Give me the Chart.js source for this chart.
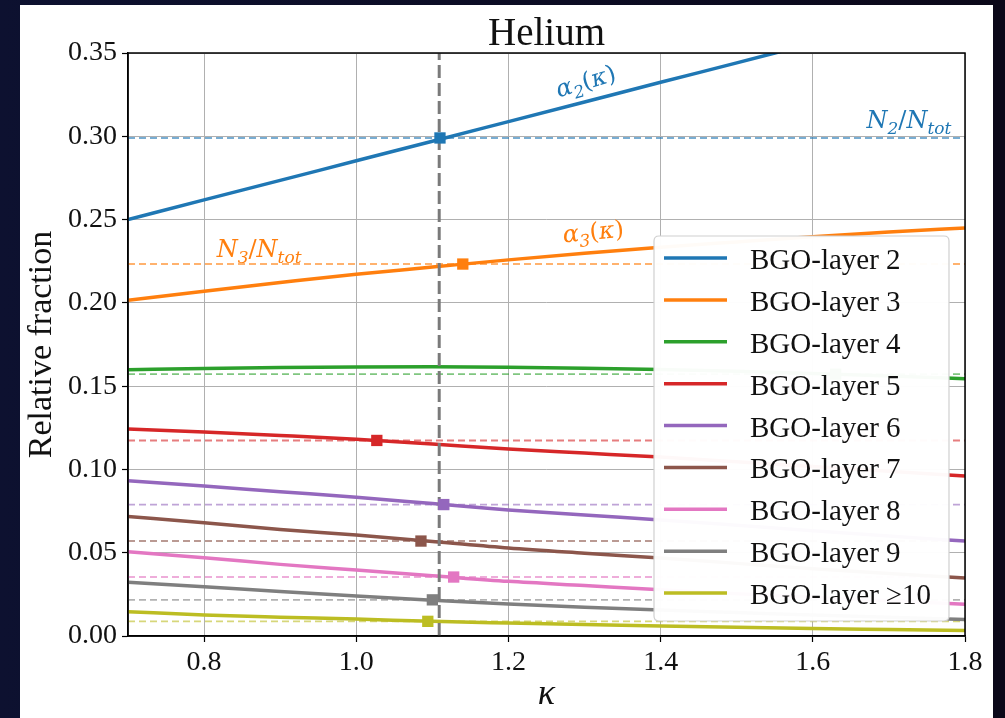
<!DOCTYPE html>
<html><head><meta charset="utf-8">
<script src="https://cdn.jsdelivr.net/npm/chart.js@4.4.0/dist/chart.umd.min.js"></script>
<style>
html,body{margin:0;padding:0;background:#0c0e26;overflow:hidden}
canvas{display:block}
</style></head>
<body>
<canvas id="c" width="1005" height="718" style="width:1005px;height:718px"></canvas>
<script>
// ---------------- data ----------------
const kappa   = [0.7, 0.8, 0.9, 1.0, 1.1, 1.2, 1.3, 1.4, 1.5, 1.6, 1.7, 1.8];
const layer2  = [0.2500, 0.2618, 0.2735, 0.2853, 0.2970, 0.3088, 0.3206, 0.3324, 0.3441, 0.3559, 0.3676, 0.3794];
const layer3  = [0.2015, 0.2070, 0.2122, 0.2172, 0.2215, 0.2258, 0.2298, 0.2334, 0.2366, 0.2397, 0.2425, 0.2450];
const layer4  = [0.1598, 0.1606, 0.1612, 0.1615, 0.1616, 0.1614, 0.1608, 0.1600, 0.1589, 0.1576, 0.1561, 0.1545];
const layer5  = [0.1243, 0.1225, 0.1204, 0.1181, 0.1152, 0.1122, 0.1098, 0.1074, 0.1046, 0.1017, 0.0989, 0.0960];
const layer6  = [0.0932, 0.0900, 0.0866, 0.0833, 0.0795, 0.0757, 0.0726, 0.0697, 0.0665, 0.0632, 0.0600, 0.0570];
const layer7  = [0.0717, 0.0680, 0.0640, 0.0606, 0.0568, 0.0528, 0.0497, 0.0468, 0.0436, 0.0404, 0.0375, 0.0348];
const layer8  = [0.0506, 0.0470, 0.0430, 0.0396, 0.0362, 0.0328, 0.0303, 0.0278, 0.0254, 0.0232, 0.0211, 0.0190];
const layer9  = [0.0322, 0.0296, 0.0267, 0.0240, 0.0215, 0.0192, 0.0173, 0.0156, 0.0141, 0.0126, 0.0112, 0.0099];
const layer10 = [0.0146, 0.0126, 0.0113, 0.0102, 0.0088, 0.0078, 0.0069, 0.0060, 0.0052, 0.0045, 0.0039, 0.0033];
const seriesValues = [layer2, layer3, layer4, layer5, layer6, layer7, layer8, layer9, layer10];
const seriesLabels = ['BGO-layer 2','BGO-layer 3','BGO-layer 4','BGO-layer 5','BGO-layer 6','BGO-layer 7','BGO-layer 8','BGO-layer 9','BGO-layer \u226510'];
// measured fractions N_i/N_tot and crossing points alpha_i(kappa) = N_i/N_tot
const crossKappa = [1.110, 1.140, 1.630, 1.027, 1.115, 1.085, 1.128, 1.100, 1.094];
const crossFrac  = [0.2990, 0.2233, 0.1572, 0.1174, 0.0789, 0.0570, 0.0354, 0.0217, 0.0088];
const kappaRef = 1.109;
const xTicks = [0.8, 1.0, 1.2, 1.4, 1.6, 1.8];
const yTicks = [0.00, 0.05, 0.10, 0.15, 0.20, 0.25, 0.30, 0.35];

// ---------------- styles ----------------
const colors = ['#1f77b4','#ff7f0e','#2ca02c','#d62728','#9467bd','#8c564b','#e377c2','#7f7f7f','#bcbd22'];
function alpha(hex, a){const n=parseInt(hex.slice(1),16);return `rgba(${n>>16},${(n>>8)&255},${n&255},${a})`;}
const SERIF = '"Liberation Serif", "DejaVu Serif", serif';
const MATH = '"DejaVu Serif", serif';

// annotation anchors (data coords)
const annotations = [
  {parts:[['N','i'],['2','s'],['/','r'],['N','i'],['tot','s']], k:1.782, v:0.3050, align:'right', series:null, color:colors[0]},
  {parts:[['\u03b1','i'],['2','s'],['(','r'],['\u03ba','i'],[')','r']], k:1.3045, v:0.3285, align:'center', series:0, color:colors[0]},
  {parts:[['N','i'],['3','s'],['/','r'],['N','i'],['tot','s']], k:0.8166, v:0.2277, align:'left', series:null, color:colors[1]},
  {parts:[['\u03b1','i'],['3','s'],['(','r'],['\u03ba','i'],[')','r']], k:1.3124, v:0.2380, align:'center', series:1, color:colors[1]},
];

// ---------------- datasets ----------------
const datasets = [];
seriesValues.forEach((vals, i) => {
  datasets.push({
    label: seriesLabels[i], data: kappa.map((k, j) => ({x:k, y:vals[j]})),
    borderColor: colors[i], borderWidth: 3.5, pointRadius: 0, fill:false,
    cubicInterpolationMode: 'monotone', clip: 0, order: 3
  });
  datasets.push({
    label: '_dash' + i, data: [{x:kappa[0], y:crossFrac[i]}, {x:kappa[kappa.length-1], y:crossFrac[i]}],
    borderColor: alpha(colors[i], 0.6), borderWidth: 1.9, borderDash:[7,4], pointRadius:0, fill:false,
    clip: 0, order: 5
  });
  datasets.push({
    label: '_mark' + i, data: [{x:crossKappa[i], y:crossFrac[i]}], showLine:false,
    pointStyle:'rect', pointRadius:8, pointBackgroundColor: colors[i], pointBorderWidth:0,
    borderColor: colors[i], order: 1
  });
});
datasets.push({
  label: '_vline', data: [{x:kappaRef, y:yTicks[0]}, {x:kappaRef, y:yTicks[yTicks.length-1]}],
  borderColor:'#7a7a7a', borderWidth:3, borderDash:[13,5], pointRadius:0, fill:false, clip:0, order: 2
});

// ---------------- helpers ----------------
function drawMath(ctx, parts, x, y, align, angle, color, size){
  const sub = Math.round(size*0.72);
  const fontOf = (kind) => kind === 's' ? `italic ${sub}px ${MATH}` : (kind === 'r' ? `${size}px ${MATH}` : `italic ${size}px ${MATH}`);
  let total = 0;
  const widths = parts.map(([t, kind]) => { ctx.font = fontOf(kind); const w = ctx.measureText(t).width; total += w; return w; });
  ctx.save();
  ctx.translate(x, y);
  ctx.rotate(angle);
  let cx = align === 'right' ? -total : (align === 'center' ? -total/2 : 0);
  ctx.fillStyle = color;
  ctx.textBaseline = 'alphabetic';
  ctx.textAlign = 'left';
  parts.forEach(([t, kind], i) => {
    ctx.font = fontOf(kind);
    ctx.fillText(t, cx, kind === 's' ? size*0.25 : 0);
    cx += widths[i];
  });
  ctx.restore();
}

const decor = {
  id: 'decor',
  beforeDraw(chart){
    const ctx = chart.ctx;
    ctx.save();
    const g = ctx.createLinearGradient(0, 0, chart.width, 0);
    g.addColorStop(0, '#0d1130'); g.addColorStop(1, '#0b0819');
    ctx.fillStyle = g; ctx.fillRect(0, 0, chart.width, chart.height);
    ctx.fillStyle = '#ffffff'; ctx.fillRect(20, 5, 973, 713);
    ctx.restore();
  },
  afterDatasetsDraw(chart){
    const ctx = chart.ctx, a = chart.chartArea;
    const xs = chart.scales.x, ys = chart.scales.y;
    // spines
    ctx.save();
    ctx.strokeStyle = '#000'; ctx.lineWidth = 1.5;
    ctx.strokeRect(a.left, a.top, a.right - a.left, a.bottom - a.top);
    ctx.restore();
    // annotations
    annotations.forEach(an => {
      let ang = 0;
      if (an.series !== null) {
        const v = seriesValues[an.series];
        const x0 = xs.getPixelForValue(kappa[0]), x1 = xs.getPixelForValue(kappa[kappa.length-1]);
        const y0 = ys.getPixelForValue(v[0]), y1 = ys.getPixelForValue(v[v.length-1]);
        ang = Math.atan2(y1 - y0, x1 - x0) * 1.15;
      }
      drawMath(ctx, an.parts, xs.getPixelForValue(an.k), ys.getPixelForValue(an.v), an.align, ang, an.color, 24);
    });
    // legend
    const lx = 654, ly = 236, lw = 295, lh = 385, r = 5;
    ctx.save();
    ctx.beginPath();
    ctx.moveTo(lx + r, ly); ctx.lineTo(lx + lw - r, ly); ctx.quadraticCurveTo(lx + lw, ly, lx + lw, ly + r);
    ctx.lineTo(lx + lw, ly + lh - r); ctx.quadraticCurveTo(lx + lw, ly + lh, lx + lw - r, ly + lh);
    ctx.lineTo(lx + r, ly + lh); ctx.quadraticCurveTo(lx, ly + lh, lx, ly + lh - r);
    ctx.lineTo(lx, ly + r); ctx.quadraticCurveTo(lx, ly, lx + r, ly); ctx.closePath();
    ctx.fillStyle = 'rgba(255,255,255,0.97)'; ctx.fill();
    ctx.strokeStyle = '#d0d0d0'; ctx.lineWidth = 1.2; ctx.stroke();
    seriesLabels.forEach((lab, i) => {
      const yy = 258 + i * 41.875;
      ctx.strokeStyle = colors[i]; ctx.lineWidth = 3.5; ctx.setLineDash([]);
      ctx.beginPath(); ctx.moveTo(664, yy); ctx.lineTo(727, yy); ctx.stroke();
      ctx.fillStyle = '#111'; ctx.font = `29px ${SERIF}`; ctx.textBaseline = 'alphabetic'; ctx.textAlign = 'left';
      ctx.fillText(lab, 750, yy + 11);
    });
    ctx.restore();
    // title
    ctx.save();
    ctx.fillStyle = '#111'; ctx.font = `39px ${SERIF}`; ctx.textAlign = 'center'; ctx.textBaseline = 'alphabetic';
    ctx.fillText('Helium', (a.left + a.right) / 2, 45);
    ctx.restore();
  }
};

new Chart(document.getElementById('c'), {
  type: 'line',
  data: { datasets },
  options: {
    responsive: false, animation: false, devicePixelRatio: 1,
    events: [],
    layout: { padding: { left: 0, top: 53, right: 40, bottom: 0 } },
    plugins: { legend: { display: false }, tooltip: { enabled: false }, title: { display: false } },
    scales: {
      x: {
        type: 'linear', min: 0.7, max: 1.8,
        afterBuildTicks: s => { s.ticks = xTicks.map(v => ({value: v})); },
        afterFit: s => { s.height = 82; },
        ticks: { callback: v => Number(v).toFixed(1), font: { family: SERIF, size: 28 }, color: '#111', padding: 4, maxRotation: 0, autoSkip: false },
        grid: { color: '#b0b0b0', lineWidth: 1, tickColor: '#000', tickLength: 6, tickWidth: 1.2 },
        border: { color: '#000', width: 1.5 },
        title: { display: true, text: '\u03ba', font: { family: SERIF, size: 36, style: 'italic' }, color: '#111', padding: { top: 0, bottom: 2 } }
      },
      y: {
        type: 'linear', min: 0, max: 0.35,
        afterBuildTicks: s => { s.ticks = yTicks.map(v => ({value: v})); },
        afterFit: s => { s.width = 128; },
        ticks: { callback: v => Number(v).toFixed(2), font: { family: SERIF, size: 28 }, color: '#111', padding: 5, autoSkip: false },
        grid: { color: '#b0b0b0', lineWidth: 1, tickColor: '#000', tickLength: 6, tickWidth: 1.2 },
        border: { color: '#000', width: 1.5 },
        title: { display: true, text: 'Relative fraction', font: { family: SERIF, size: 34 }, color: '#111', padding: { top: 22, bottom: 0 } }
      }
    }
  },
  plugins: [decor]
});
</script>
</body></html>
